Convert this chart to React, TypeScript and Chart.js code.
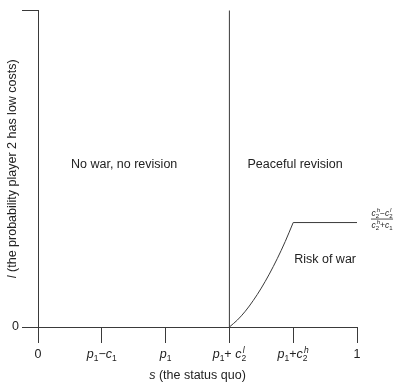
import React, { useEffect, useRef } from 'react';
import { Chart, registerables } from 'chart.js';

Chart.register(...registerables);

// ---- data ----
const xTickValues = [0, 0.2, 0.4, 0.6, 0.8, 1];
const xTickLabels = ['0', 'p_1−c_1', 'p_1', 'p_1+ c^l_2', 'p_1+c^h_2', '1'];
const yTickValues = [0, 1];
const yTickLabels = ['0', ''];
const thresholdX = [0.6, 0.6];
const thresholdY = [0, 1];
const curveX = [0.6, 0.625, 0.65, 0.675, 0.7, 0.725, 0.75, 0.775, 0.8];
const curveY = [0, 0.022, 0.05, 0.084, 0.123, 0.167, 0.216, 0.27, 0.33];
const plateauX = [0.8, 1];
const plateauY = [0.33, 0.33];
const regionLabels = ['No war, no revision', 'Peaceful revision', 'Risk of war'];
const fracNumerator = 'c^h_2−c^l_2';
const fracDenominator = 'c^h_2+c_1';
const xTitleVar = 's';
const xTitleRest = ' (the status quo)';
const yTitleVar = 'l';
const yTitleRest = ' (the probability player 2 has low costs)';

// ---- style ----
const LINE = '#3a3a3a';
const TEXT = '#222222';
const FAMILY = '"Liberation Sans", Arial, Helvetica, sans-serif';

type Seg = { kind: 'n' | 'sub' | 'sup' | 'stack'; t: string; sup?: string; sub?: string };

function parse(s: string): Seg[] {
  const out: Seg[] = [];
  for (let i = 0; i < s.length; i++) {
    const ch = s[i];
    if (ch === '_') {
      out.push({ kind: 'sub', t: s[i + 1] });
      i++;
    } else if (ch === '^') {
      if (s[i + 2] === '_') {
        out.push({ kind: 'stack', t: '', sup: s[i + 1], sub: s[i + 3] });
        i += 3;
      } else {
        out.push({ kind: 'sup', t: s[i + 1] });
        i++;
      }
    } else {
      out.push({ kind: 'n', t: ch });
    }
  }
  return out;
}

const isVar = (c: string) => /[a-z]/.test(c);
const font = (c: string, size: number) => `${isVar(c) ? 'italic ' : ''}${size}px ${FAMILY}`;

function charW(ctx: CanvasRenderingContext2D, c: string, size: number) {
  ctx.font = font(c, size);
  return ctx.measureText(c).width;
}

function segW(ctx: CanvasRenderingContext2D, s: Seg, size: number, ss: number) {
  if (s.kind === 'n') return charW(ctx, s.t, size);
  if (s.kind === 'sub' || s.kind === 'sup') return charW(ctx, s.t, ss);
  return Math.max(charW(ctx, s.sup!, ss) + ss * 0.15, charW(ctx, s.sub!, ss));
}

function drawRich(ctx: CanvasRenderingContext2D, segs: Seg[], cx: number, cy: number, size: number, ss: number) {
  const total = segs.reduce((w, s) => w + segW(ctx, s, size, ss), 0);
  let px = cx - total / 2;
  ctx.textAlign = 'left';
  ctx.textBaseline = 'middle';
  for (const s of segs) {
    const w = segW(ctx, s, size, ss);
    if (s.kind === 'n') {
      ctx.font = font(s.t, size);
      ctx.fillText(s.t, px, cy);
    } else if (s.kind === 'sub') {
      ctx.font = font(s.t, ss);
      ctx.fillText(s.t, px, cy + size * 0.28);
    } else if (s.kind === 'sup') {
      ctx.font = font(s.t, ss);
      ctx.fillText(s.t, px, cy - size * 0.38);
    } else {
      ctx.font = font(s.sub!, ss);
      ctx.fillText(s.sub!, px, cy + size * 0.28);
      ctx.font = font(s.sup!, ss);
      ctx.fillText(s.sup!, px + ss * 0.15, cy - size * 0.38);
    }
    px += w;
  }
  return total;
}

function drawTitle(ctx: CanvasRenderingContext2D, v: string, rest: string, cx: number, cy: number, size: number) {
  ctx.font = `italic ${size}px ${FAMILY}`;
  const w1 = ctx.measureText(v).width;
  ctx.font = `${size}px ${FAMILY}`;
  const w2 = ctx.measureText(rest).width;
  const px = cx - (w1 + w2) / 2;
  ctx.textAlign = 'left';
  ctx.textBaseline = 'middle';
  ctx.font = `italic ${size}px ${FAMILY}`;
  ctx.fillText(v, px, cy);
  ctx.font = `${size}px ${FAMILY}`;
  ctx.fillText(rest, px + w1, cy);
}

const richTextPlugin = {
  id: 'richText',
  afterDraw(chart: any) {
    const { ctx, chartArea } = chart;
    const xs = chart.scales.x;
    const ys = chart.scales.y;
    ctx.save();
    ctx.fillStyle = TEXT;

    // x tick labels
    xTickValues.forEach((v, i) => {
      drawRich(ctx, parse(xTickLabels[i]), xs.getPixelForValue(v), xs.top + 28, 12.5, 8.5);
    });

    // axis titles
    drawTitle(ctx, xTitleVar, xTitleRest, (chartArea.left + chartArea.right) / 2, xs.top + 49, 12.5);
    ctx.save();
    ctx.translate(ys.left + 13, (chartArea.top + chartArea.bottom) / 2);
    ctx.rotate(-Math.PI / 2);
    drawTitle(ctx, yTitleVar, yTitleRest, 0, 0, 12.5);
    ctx.restore();

    // region labels
    ctx.textAlign = 'center';
    ctx.textBaseline = 'middle';
    ctx.font = `12.5px ${FAMILY}`;
    ctx.fillText(regionLabels[0], xs.getPixelForValue(0.27), ys.getPixelForValue(0.514));
    ctx.fillText(regionLabels[1], xs.getPixelForValue(0.806), ys.getPixelForValue(0.514));
    ctx.fillText(regionLabels[2], xs.getPixelForValue(0.9), ys.getPixelForValue(0.213));

    // fraction label at plateau end
    const fx = xs.getPixelForValue(plateauX[1]) + 25;
    const barY = ys.getPixelForValue(plateauY[1]) - 3.5;
    const wn = drawRich(ctx, parse(fracNumerator), fx, barY - 5, 8.5, 6);
    const wd = drawRich(ctx, parse(fracDenominator), fx, barY + 6.5, 8.5, 6);
    const bw = Math.max(wn, wd) + 1;
    ctx.strokeStyle = TEXT;
    ctx.lineWidth = 0.8;
    ctx.beginPath();
    ctx.moveTo(fx - bw / 2, barY);
    ctx.lineTo(fx + bw / 2, barY);
    ctx.stroke();

    ctx.restore();
  },
};

const toPts = (xs: number[], ys: number[]) => xs.map((x, i) => ({ x, y: ys[i] }));

export default function App() {
  const ref = useRef<HTMLCanvasElement | null>(null);

  useEffect(() => {
    document.body.style.margin = '0';
    const canvas = ref.current!;
    const lineDs = (data: any[], extra: any = {}) => ({
      data,
      showLine: true,
      borderColor: LINE,
      backgroundColor: LINE,
      borderWidth: 1,
      pointRadius: 0,
      fill: false,
      clip: false,
      ...extra,
    });
    const chart = new Chart(canvas, {
      type: 'scatter',
      data: {
        datasets: [
          lineDs(toPts(thresholdX, thresholdY)),
          lineDs(toPts(curveX, curveY), { cubicInterpolationMode: 'monotone' }),
          lineDs(toPts(plateauX, plateauY)),
        ],
      },
      options: {
        animation: false,
        responsive: false,
        devicePixelRatio: 1,
        layout: { padding: { top: 8, right: 42, left: 0, bottom: 0 } },
        plugins: { legend: { display: false }, tooltip: { enabled: false }, title: { display: false } },
        scales: {
          x: {
            type: 'linear',
            position: 'bottom',
            min: 0,
            max: 1,
            afterBuildTicks: (s: any) => {
              s.ticks = xTickValues.map((v) => ({ value: v }));
            },
            afterFit: (s: any) => {
              s.height = 56;
            },
            grid: { display: true, drawOnChartArea: false, drawTicks: true, tickLength: 16, color: LINE, lineWidth: 1 },
            border: { display: true, color: LINE, width: 1 },
            ticks: { display: false },
          },
          y: {
            type: 'linear',
            position: 'left',
            min: 0,
            max: 1,
            afterBuildTicks: (s: any) => {
              s.ticks = yTickValues.map((v) => ({ value: v }));
            },
            afterFit: (s: any) => {
              s.width = 38;
            },
            grid: { display: true, drawOnChartArea: false, drawTicks: true, tickLength: 16, color: LINE, lineWidth: 1 },
            border: { display: true, color: LINE, width: 1 },
            ticks: {
              display: true,
              padding: 3,
              color: TEXT,
              font: { family: FAMILY, size: 12.5 },
              callback: (v: any) => {
                const i = yTickValues.indexOf(Number(v));
                return i >= 0 ? yTickLabels[i] : '';
              },
            },
          },
        },
      },
      plugins: [richTextPlugin],
    } as any);
    return () => chart.destroy();
  }, []);

  return (
    <div style={{ width: 399, height: 383 }}>
      <canvas ref={ref} width={399} height={383} style={{ display: 'block' }} />
    </div>
  );
}
